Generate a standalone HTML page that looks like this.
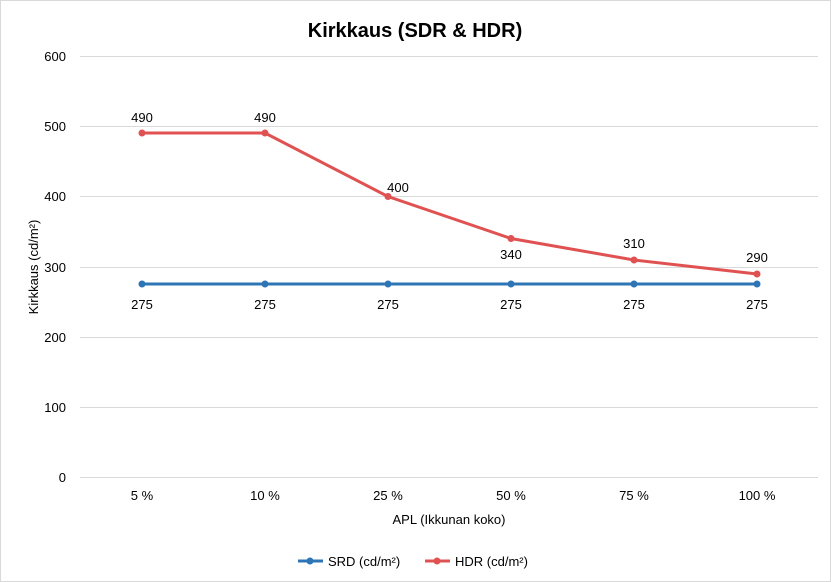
<!DOCTYPE html>
<html><head><style>
body{margin:0;background:#fff;}
svg{display:block;font-family:"Liberation Sans",sans-serif;}
</style></head><body>
<svg width="831" height="582" viewBox="0 0 831 582">
<rect x="0.5" y="0.5" width="830" height="581" fill="#fff" stroke="#d9d9d9"/>
<text x="415" y="37" text-anchor="middle" font-size="20" font-weight="bold" fill="#000">Kirkkaus (SDR &amp; HDR)</text>
<g stroke="#d9d9d9" stroke-width="1">
<line x1="80" x2="818" y1="56.5" y2="56.5"/>
<line x1="80" x2="818" y1="126.5" y2="126.5"/>
<line x1="80" x2="818" y1="196.5" y2="196.5"/>
<line x1="80" x2="818" y1="267.5" y2="267.5"/>
<line x1="80" x2="818" y1="337.5" y2="337.5"/>
<line x1="80" x2="818" y1="407.5" y2="407.5"/>
<line x1="80" x2="818" y1="477.5" y2="477.5"/>
</g>
<g font-size="13" fill="#000" text-anchor="end">
<text x="66" y="61">600</text><text x="66" y="131">500</text><text x="66" y="201">400</text>
<text x="66" y="272">300</text><text x="66" y="342">200</text><text x="66" y="412">100</text><text x="66" y="482">0</text>
</g>
<g font-size="13" fill="#000" text-anchor="middle">
<text x="142" y="500">5 %</text><text x="265" y="500">10 %</text><text x="388" y="500">25 %</text>
<text x="511" y="500">50 %</text><text x="634" y="500">75 %</text><text x="757" y="500">100 %</text>
<text x="449" y="524">APL (Ikkunan koko)</text>
</g>
<text transform="translate(38,267) rotate(-90)" text-anchor="middle" font-size="13">Kirkkaus (cd/m²)</text>
<polyline fill="none" stroke="#2e75b6" stroke-width="3" points="142,284 265,284 388,284 511,284 634,284 757,284"/>
<g fill="#2e75b6"><circle cx="142" cy="284" r="3.5"/><circle cx="265" cy="284" r="3.5"/><circle cx="388" cy="284" r="3.5"/><circle cx="511" cy="284" r="3.5"/><circle cx="634" cy="284" r="3.5"/><circle cx="757" cy="284" r="3.5"/></g>
<polyline fill="none" stroke="#e05252" stroke-width="3" points="142,133 265,133 388,196.5 511,238.5 634,260 757,274"/>
<g fill="#e05252"><circle cx="142" cy="133" r="3.5"/><circle cx="265" cy="133" r="3.5"/><circle cx="388" cy="196.5" r="3.5"/><circle cx="511" cy="238.5" r="3.5"/><circle cx="634" cy="260" r="3.5"/><circle cx="757" cy="274" r="3.5"/></g>
<g font-size="13" fill="#000" text-anchor="middle">
<text x="142" y="309">275</text><text x="265" y="309">275</text><text x="388" y="309">275</text><text x="511" y="309">275</text><text x="634" y="309">275</text><text x="757" y="309">275</text>
<text x="142" y="122">490</text><text x="265" y="122">490</text><text x="398" y="192">400</text><text x="511" y="259">340</text><text x="634" y="248">310</text><text x="757" y="262">290</text>
</g>
<line x1="298" x2="323" y1="561" y2="561" stroke="#2e75b6" stroke-width="3"/><circle cx="310" cy="561" r="3.5" fill="#2e75b6"/>
<text x="328" y="566" font-size="13">SRD (cd/m²)</text>
<line x1="425" x2="450" y1="561" y2="561" stroke="#e05252" stroke-width="3"/><circle cx="437" cy="561" r="3.5" fill="#e05252"/>
<text x="455" y="566" font-size="13">HDR (cd/m²)</text>
</svg>
</body></html>
